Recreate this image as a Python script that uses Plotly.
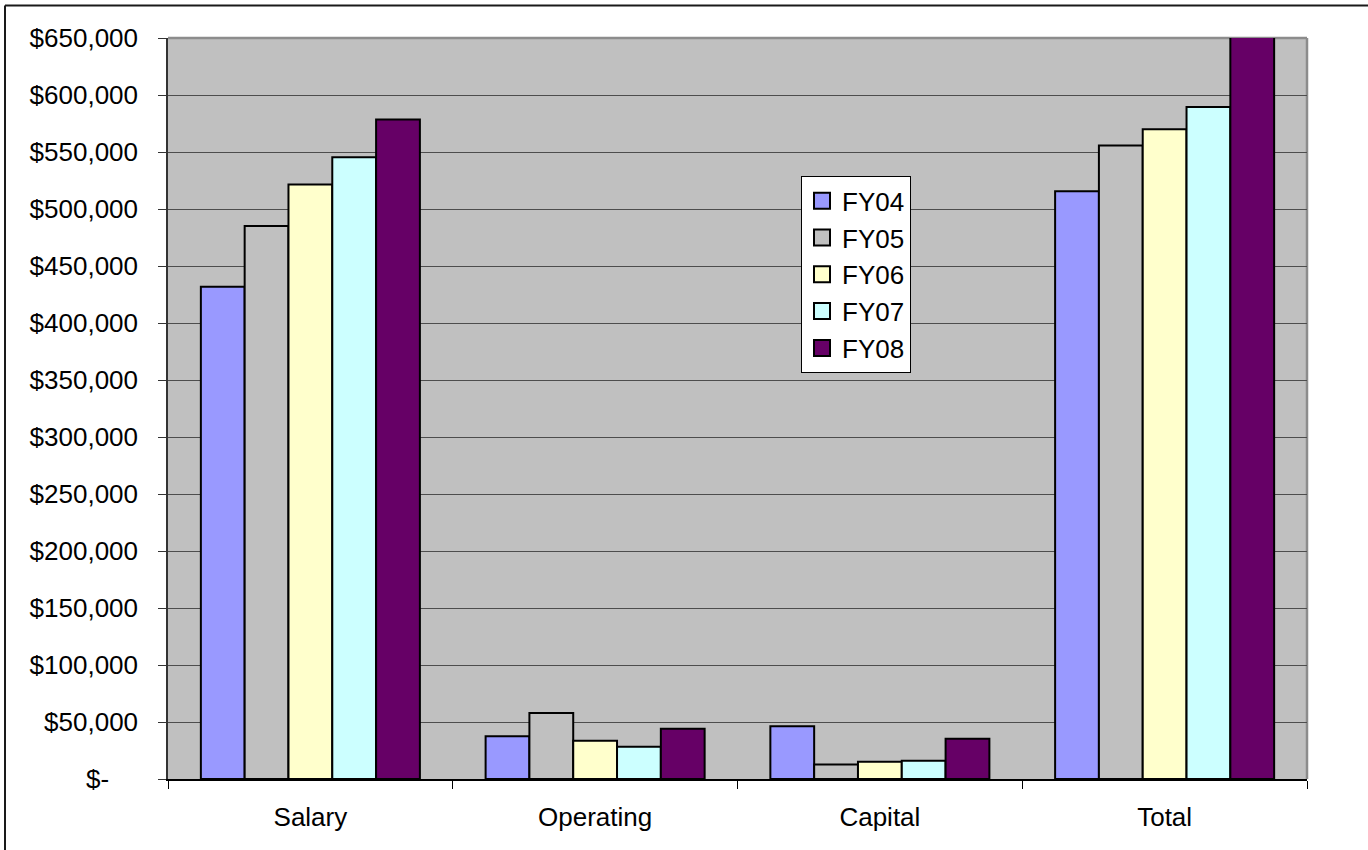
import plotly.graph_objects as go

# Budget by category and fiscal year (dollars)
categories = ["Salary", "Operating", "Capital", "Total"]
fy04 = [431700, 37500, 46300, 515500]
fy05 = [485100, 58000, 12700, 555800]
fy06 = [521400, 33500, 15100, 570000]
fy07 = [545300, 28200, 15900, 589400]
fy08 = [578600, 44000, 35200, 657800]

series_names = ["FY04", "FY05", "FY06", "FY07", "FY08"]
series_values = [fy04, fy05, fy06, fy07, fy08]
series_colors = ["#9999FF", "#C0C0C0", "#FFFFCC", "#CCFFFF", "#660066"]

tick_values = list(range(0, 650001, 50000))
tick_labels = ["$-\u00a0\u00a0\u00a0\u00a0"] + [f"${v:,}" for v in tick_values[1:]]

W, H = 1368, 850
ML, MR, MT, MB = 168, 61, 37.5, 70.5
FONT = "Arial, Liberation Sans, sans-serif"

fig = go.Figure()
for name, vals, col in zip(series_names, series_values, series_colors):
    fig.add_trace(go.Bar(
        x=categories, y=vals, name=name, showlegend=False,
        marker=dict(color=col, line=dict(color="#000000", width=2)),
    ))

# legend entries with larger square swatches
for name, col in zip(series_names, series_colors):
    fig.add_trace(go.Scatter(
        x=[None], y=[None], mode="markers", name=name,
        marker=dict(symbol="square", size=16, color=col,
                    line=dict(color="#000000", width=2)),
    ))

pw = W - ML - MR
ph = H - MT - MB

def px_x(x):
    return (x - ML) / pw

def px_y(y):
    return (H - MB - y) / ph

fig.update_layout(
    width=W, height=H,
    margin=dict(l=ML, r=MR, t=MT, b=MB, pad=0),
    paper_bgcolor="#FFFFFF",
    plot_bgcolor="#C0C0C0",
    barmode="group",
    bargap=1.5 / 6.5,
    bargroupgap=0,
    font=dict(family=FONT, size=26, color="#000000"),
    showlegend=True,
    legend=dict(
        x=px_x(801), y=px_y(176), xanchor="left", yanchor="top",
        bgcolor="#FFFFFF", bordercolor="#000000", borderwidth=1,
        font=dict(family=FONT, size=26, color="#000000"),
        tracegroupgap=0,
    ),
    xaxis=dict(
        showgrid=False,
        showline=True, linecolor="#000000", linewidth=1.5,
        ticks="outside", ticklen=8, tickcolor="#000000", tickwidth=1,
        tickson="boundaries",
        ticklabelstandoff=14,
        tickfont=dict(family=FONT, size=26, color="#000000"),
        fixedrange=True,
    ),
    yaxis=dict(
        range=[0, 650000],
        tickvals=tick_values, ticktext=tick_labels,
        showgrid=True, gridcolor="#4D4D4D", gridwidth=1,
        showline=True, linecolor="#333333", linewidth=1.5,
        ticks="outside", ticklen=8, tickcolor="#333333", tickwidth=1,
        ticklabelstandoff=15,
        tickfont=dict(family=FONT, size=26, color="#000000"),
        zeroline=False,
        fixedrange=True,
    ),
    shapes=[
        # grey border on the plot area's top and right edges
        dict(type="line", xref="paper", yref="paper", x0=0, x1=1, y0=1, y1=1,
             line=dict(color="#8C8C8C", width=2.5), layer="below"),
        dict(type="line", xref="paper", yref="paper", x0=1, x1=1, y0=0, y1=1,
             line=dict(color="#8C8C8C", width=2.5), layer="below"),
        # chart frame, left and top edges
        dict(type="line", xref="paper", yref="paper",
             x0=px_x(5), x1=px_x(5), y0=px_y(H + 10), y1=px_y(5),
             line=dict(color="#1A1A1A", width=2)),
        dict(type="line", xref="paper", yref="paper",
             x0=px_x(5), x1=px_x(W + 10), y0=px_y(5), y1=px_y(5),
             line=dict(color="#1A1A1A", width=2)),
    ],
)

fig.write_html("out.html")
